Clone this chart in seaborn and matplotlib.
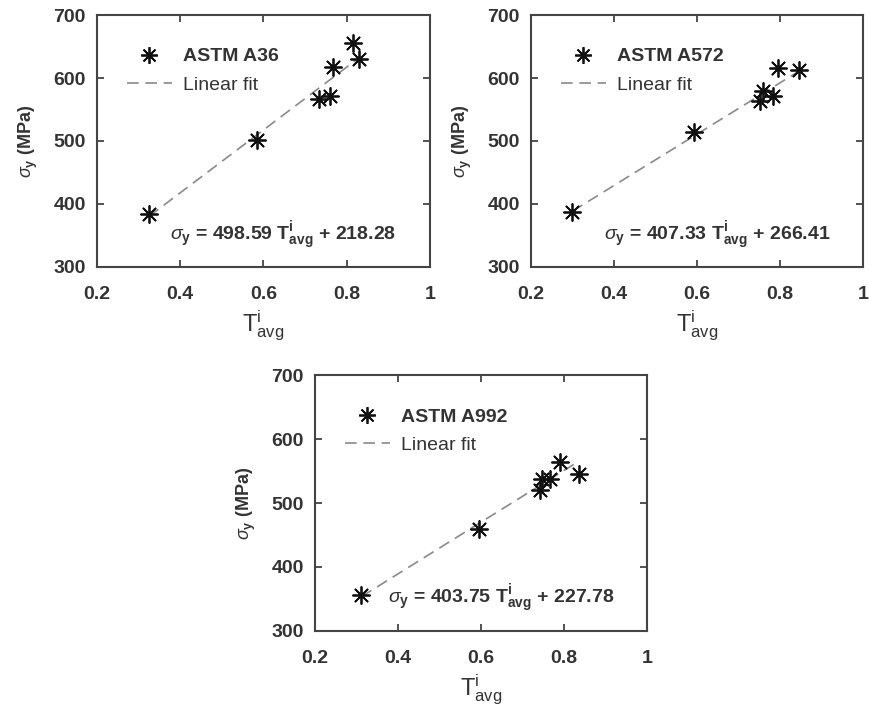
# yield strength vs average transmittance, three steel grades

import numpy as np
import pandas as pd
import seaborn as sns
import matplotlib.pyplot as plt
from matplotlib.lines import Line2D

# data
grades = ['ASTM A36', 'ASTM A572', 'ASTM A992']
t_a36 = [0.325, 0.584, 0.734, 0.759, 0.767, 0.815, 0.831]
s_a36 = [384, 502, 566, 572, 617, 655, 630]
t_a572 = [0.300, 0.594, 0.751, 0.759, 0.783, 0.795, 0.847]
s_a572 = [388, 515, 563, 579, 571, 616, 612]
t_a992 = [0.312, 0.594, 0.743, 0.747, 0.767, 0.791, 0.835]
s_a992 = [356, 459, 520, 538, 538, 564, 545]
slopes = [498.59, 407.33, 403.75]
intercepts = [218.28, 266.41, 227.78]

xs = [t_a36, t_a572, t_a992]
ys = [s_a36, s_a572, s_a992]

sns.set_style('ticks')
plt.rcParams['font.family'] = ['Liberation Sans', 'DejaVu Sans']
plt.rcParams['mathtext.fontset'] = 'custom'
plt.rcParams['mathtext.rm'] = 'Liberation Sans'
plt.rcParams['mathtext.it'] = 'Liberation Sans:italic'
plt.rcParams['mathtext.bf'] = 'Liberation Sans:bold'

fig = plt.figure(figsize=(8.69, 7.15), dpi=100)
boxes = [[0.1116, 0.6266, 0.383, 0.3524],
         [0.6110, 0.6266, 0.382, 0.3524],
         [0.3625, 0.1175, 0.382, 0.358]]

txt = '#333333'
star = (8, 2, 0)

for i in range(3):
    ax = fig.add_axes(boxes[i])
    df = pd.DataFrame({'t': xs[i], 's': ys[i]})
    xf = np.array([min(xs[i]), max(xs[i])])
    fit = pd.DataFrame({'t': xf, 's': slopes[i] * xf + intercepts[i]})

    sns.lineplot(data=fit, x='t', y='s', ax=ax, color='#8a8a8a', lw=1.2,
                 dashes=False, zorder=1)
    ax.lines[-1].set_dashes((7, 4))
    sns.scatterplot(data=df, x='t', y='s', ax=ax, marker=star, s=150,
                    color='#111111', linewidth=1.3, zorder=3)

    ax.set_xlim(0.2, 1)
    ax.set_ylim(300, 700)
    ax.set_xticks([0.2, 0.4, 0.6, 0.8, 1.0])
    ax.set_xticklabels(['0.2', '0.4', '0.6', '0.8', '1'])
    ax.set_yticks([300, 400, 500, 600, 700])
    ax.tick_params(direction='in', top=True, right=True, length=5, width=1.3,
                   labelsize=14, colors='#444444', labelcolor=txt)
    ax.tick_params(axis='x', pad=14)
    ax.tick_params(axis='y', pad=8)
    for lab in ax.get_xticklabels() + ax.get_yticklabels():
        lab.set_fontweight('bold')
    for sp in ax.spines.values():
        sp.set_linewidth(1.5)
        sp.set_color('#444444')

    ax.set_xlabel(r'$\mathregular{T^{i}_{avg}}$', fontsize=17, color=txt,
                  labelpad=4)
    ax.set_ylabel(r'$\sigma_{\mathregular{y}}$ (MPa)', fontsize=13,
                  fontweight='bold', color=txt, labelpad=10)

    ax.text(0.375, 350,
            r'$\sigma_{\mathregular{y}}$ = %.2f $\mathregular{T^{i}_{avg}}$ + %.2f'
            % (slopes[i], intercepts[i]),
            fontsize=14, fontweight='bold', color=txt, va='center')

    handles = [Line2D([], [], ls='none', marker=star, ms=12, mew=1.3,
                      color='#111111'),
               Line2D([], [], color='#8a8a8a', lw=1.2, dashes=(7, 4))]
    leg = ax.legend(handles, [grades[i], 'Linear fit'], loc='upper left',
                    bbox_to_anchor=(0.09, 0.87), frameon=False, fontsize=14,
                    handlelength=2.3, labelspacing=0.55, handletextpad=0.6,
                    borderpad=0, borderaxespad=0)
    leg.get_texts()[0].set_fontweight('bold')
    for t in leg.get_texts():
        t.set_color(txt)

plt.savefig('out.png', dpi=100)
